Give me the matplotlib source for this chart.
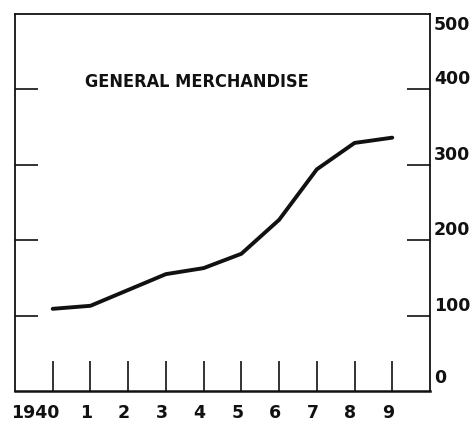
import matplotlib
matplotlib.use('Agg')
import matplotlib.pyplot as plt
import matplotlib.transforms as mtrans

years = [1940, 1941, 1942, 1943, 1944, 1945, 1946, 1947, 1948, 1949]
year_labels = ['1940', '1', '2', '3', '4', '5', '6', '7', '8', '9']
sales = [109, 113, 134, 155, 163, 182, 227, 294, 329, 336]
y_ticks = [100, 200, 300, 400]
y_labels = [0, 100, 200, 300, 400, 500]
title = 'GENERAL MERCHANDISE'

ink = '#111111'

fig = plt.figure(figsize = (4.77, 4.24), dpi = 100)
ax = fig.add_axes([15 / 477, 1 - 391 / 424, 415 / 477, 377 / 424])

ax.plot(years, sales, color = ink, lw = 2.8, solid_capstyle = 'round')

ax.set_xlim(1939.0, 1950.0)
ax.set_ylim(0, 500)

for s in ax.spines.values():
    s.set_color(ink)
    s.set_linewidth(1.3)
ax.spines['bottom'].set_linewidth(1.8)

ax.set_xticks(years)
ax.set_xticklabels([])
ax.tick_params(axis = 'x', direction = 'in', length = 21.5, width = 1.2,
               color = ink)

ax.set_yticks(y_ticks)
ax.set_yticklabels([])
ax.tick_params(axis = 'y', direction = 'in', length = 16.5, width = 1.2,
               color = ink, left = True, right = True)

# right-hand value labels: above their tick, except the top one
for v in y_labels:
    dy = -11 if v == 500 else (13 if v == 0 else 10)
    tr = mtrans.offset_copy(ax.get_yaxis_transform(), fig = fig,
                            x = 4, y = dy, units = 'dots')
    ax.text(1.0, v, str(v), transform = tr, ha = 'left', va = 'center',
            fontsize = 12.5, fontweight = 'bold', color = ink,
            clip_on = False)

# year labels below the axis
for i, (yr, lab) in enumerate(zip(years, year_labels)):
    dx = -17 if i == 0 else -4
    tr = mtrans.offset_copy(ax.get_xaxis_transform(), fig = fig,
                            x = dx, y = -22, units = 'dots')
    ax.text(yr, 0, lab, transform = tr, ha = 'center', va = 'center',
            fontsize = 12.5, fontweight = 'bold', color = ink,
            clip_on = False)

ax.text(70 / 415, 0.82, title, transform = ax.transAxes,
        family = ['DejaVu Sans'], fontstretch = 'condensed',
        fontsize = 13, fontweight = 'bold',
        color = ink, ha = 'left', va = 'center')

fig.savefig('out.png', dpi = 100)
